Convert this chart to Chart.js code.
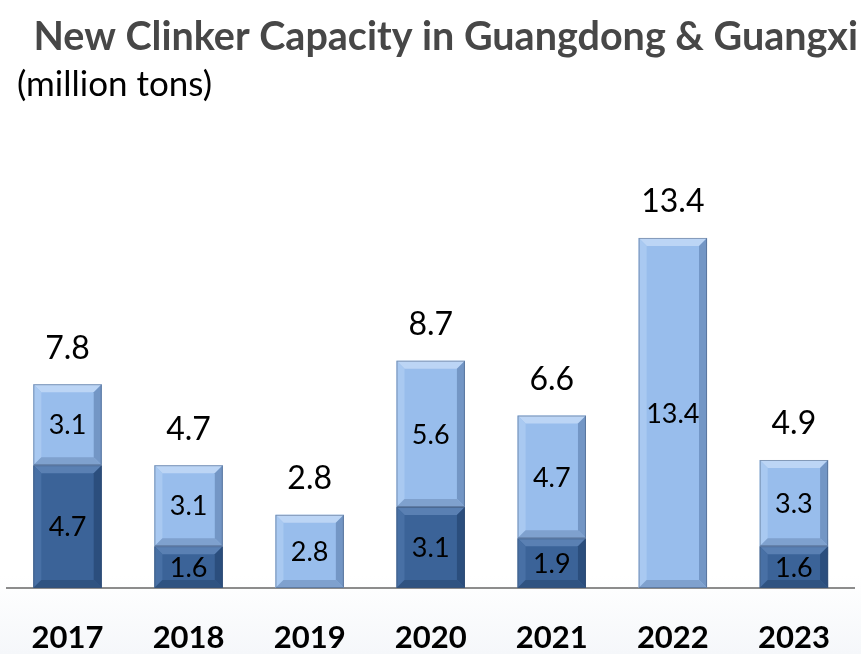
<!DOCTYPE html>
<html>
<head>
<meta charset="utf-8">
<script src="https://cdn.jsdelivr.net/npm/chart.js@4"></script>
<style>
  html, body { margin: 0; padding: 0; }
  body { background: linear-gradient(to bottom, #ffffff 0%, #ffffff 88%, #f5f7fa 100%); }
  canvas { display: block; }
</style>
</head>
<body>
<canvas id="chart" width="861" height="654"></canvas>
<script>
// Data
const years = ['2017', '2018', '2019', '2020', '2021', '2022', '2023'];
const lowerValues = [4.7, 1.6, null, 3.1, 1.9, null, 1.6];   // dark blue
const upperValues = [3.1, 3.1, 2.8, 5.6, 4.7, 13.4, 3.3];    // light blue
const totalValues = [7.8, 4.7, 2.8, 8.7, 6.6, 13.4, 4.9];

const titleText = 'New Clinker Capacity in Guangdong & Guangxi';
const unitText = '(million tons)';

const FONT = 'Lato, "Open Sans", sans-serif';

// bevel colours per dataset
const bevelColors = [
  { face: '#3b6398', top: '#5a80b3', left: '#4870a5', right: '#2b4e7d', bottom: '#2f5381' },
  { face: '#98bdec', top: '#bcd5f5', left: '#a9c9f1', right: '#7396c5', bottom: '#7fa1ce' }
];

function shade(ctx, pts, color) {
  ctx.beginPath();
  ctx.moveTo(pts[0][0], pts[0][1]);
  for (let i = 1; i < pts.length; i++) ctx.lineTo(pts[i][0], pts[i][1]);
  ctx.closePath();
  ctx.fillStyle = color;
  ctx.fill();
}

// Titles drawn at the top of the canvas
const titlePlugin = {
  id: 'titles',
  beforeDraw(chart) {
    const ctx = chart.ctx;
    ctx.save();
    ctx.textBaseline = 'alphabetic';
    ctx.fillStyle = '#474747';
    ctx.font = 'bold 39.5px ' + FONT;
    ctx.textAlign = 'right';
    ctx.fillText(titleText, 858, 50);
    ctx.fillStyle = '#000';
    ctx.font = '35px ' + FONT;
    ctx.textAlign = 'left';
    ctx.fillText(unitText, 17, 96);
    ctx.restore();
  }
};

// Bevel + value labels
const bevelPlugin = {
  id: 'bevel',
  afterDatasetsDraw(chart) {
    const ctx = chart.ctx;
    ctx.save();
    chart.data.datasets.forEach((ds, di) => {
      const meta = chart.getDatasetMeta(di);
      const c = bevelColors[di];
      meta.data.forEach((bar, i) => {
        if (ds.data[i] == null) return;
        const p = bar.getProps(['x', 'y', 'base', 'width'], true);
        const l = p.x - p.width / 2, r = p.x + p.width / 2;
        const t = Math.min(p.y, p.base), b = Math.max(p.y, p.base);
        const bv = Math.min(8, (b - t) / 2);
        shade(ctx, [[l, t], [r, t], [r - bv, t + bv], [l + bv, t + bv]], c.top);
        shade(ctx, [[l, t], [l + bv, t + bv], [l + bv, b - bv], [l, b]], c.left);
        shade(ctx, [[r, t], [r, b], [r - bv, b - bv], [r - bv, t + bv]], c.right);
        shade(ctx, [[l, b], [l + bv, b - bv], [r - bv, b - bv], [r, b]], c.bottom);
        ctx.strokeStyle = 'rgba(60,80,110,0.45)';
        ctx.lineWidth = 1;
        ctx.strokeRect(l + 0.5, t + 0.5, p.width - 1, b - t - 1);

        ctx.fillStyle = '#000';
        ctx.font = '27px ' + FONT;
        ctx.textAlign = 'center';
        ctx.textBaseline = 'middle';
        ctx.fillText(ds.data[i].toFixed(1), p.x, (t + b) / 2 + 1);
      });
    });

    // totals above the stack
    const topMeta = chart.getDatasetMeta(1);
    topMeta.data.forEach((bar, i) => {
      const p = bar.getProps(['x', 'y'], true);
      ctx.fillStyle = '#000';
      ctx.font = '32px ' + FONT;
      ctx.textAlign = 'center';
      ctx.textBaseline = 'middle';
      ctx.fillText(totalValues[i].toFixed(1), p.x, p.y - 36);
    });
    ctx.restore();
  }
};

new Chart(document.getElementById('chart'), {
  type: 'bar',
  data: {
    labels: years,
    datasets: [
      { data: lowerValues, backgroundColor: bevelColors[0].face, barPercentage: 0.565, categoryPercentage: 1 },
      { data: upperValues, backgroundColor: bevelColors[1].face, barPercentage: 0.565, categoryPercentage: 1 }
    ]
  },
  options: {
    responsive: false,
    animation: false,
    layout: { padding: { left: 7, right: 2, top: 100, bottom: 0 } },
    plugins: {
      legend: { display: false },
      tooltip: { enabled: false }
    },
    scales: {
      x: {
        stacked: true,
        grid: { display: false, drawTicks: false },
        border: { display: true, color: '#8c8c8c', width: 2 },
        ticks: { color: '#000', padding: 31, font: { family: FONT, size: 31, weight: 'bold', lineHeight: 1.2 } },
        afterFit(scale) { scale.height = 66; }
      },
      y: {
        stacked: true,
        display: false,
        min: 0,
        max: 18.68
      }
    }
  },
  plugins: [titlePlugin, bevelPlugin]
});
</script>
</body>
</html>
